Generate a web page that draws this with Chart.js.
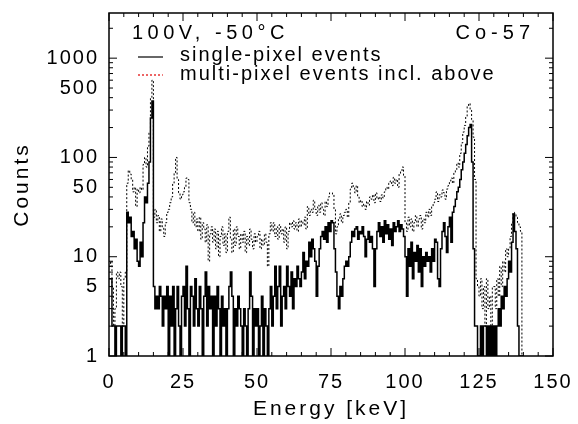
<!DOCTYPE html>
<html><head><meta charset="utf-8">
<script src="https://cdn.jsdelivr.net/npm/chart.js@4/dist/chart.umd.min.js"></script>
<style>html,body{margin:0;padding:0;background:#fff}#wrap{width:578px;height:424px}</style>
</head><body><div id="wrap"><canvas id="c" width="578" height="424"></canvas></div>
<script>
// ---- data (0.5 keV bins starting at 0 keV) ----
const binWidthKeV = 0.5;
const singlePixel = [
  6,6,2,2,1,2,2,2,1,2,        2,1,28,22,25,16,18,12,15,9,
  8,14,10,22,40,35,55,90,250,370, 5,3,4,3,5,4,2,4,3,5,
  1,4,2,5,1,3,5,2,1,4,        5,2,8,3,1,5,4,2,6,3,
  2,5,3,1,4,7,2,5,3,4,        1,4,2,5,3,1,4,2,3,1,
  3,5,7,4,1,3,2,4,3,2,        1,3,2,1,3,7,4,1,3,2,
  3,1,2,4,1,3,2,1,3,5,        2,4,8,3,5,8,2,4,5,3,
  8,5,4,7,3,6,5,8,6,5,        7,11,6,9,8,14,10,15,12,9,
  4,8,12,16,18,15,20,14,22,18, 23,22,12,7,4,3,5,4,6,8,
  9,8,10,14,18,16,19,20,15,18, 17,20,16,10,15,18,14,16,12,5,
  12,18,22,16,20,14,23,17,21,15, 19,13,22,18,20,23,18,21,19,16,
  10,4,12,8,14,6,11,9,13,7,   12,5,10,8,11,9,10,7,12,9,
  15,14,6,5,12,18,22,16,11,20, 25,14,28,32,38,45,50,60,75,90,
  110,135,165,200,215,90,12,2,2,1, 1,2,1,2,2,1,2,1,2,1,
  2,1,2,3,2,4,3,5,4,6,        9,7,14,27,18,12,2,1,1,1
];
const multiPixel = [
  8,9,5,2,3,7,6,7,5,2,        6,7,55,74,68,60,45,50,32,48,
  44,50,47,85,100,80,130,180,400,600, 25,30,22,26,18,24,20,16,22,28,
  30,35,40,55,70,100,60,44,38,42, 45,50,62,60,35,30,22,28,20,24,
  18,25,15,22,19,14,21,9,17,20, 14,19,12,18,10,16,20,13,17,11,
  18,25,15,11,19,13,20,16,12,17, 14,18,11,16,13,19,15,12,17,14,
  16,18,12,15,13,17,14,8,17,22, 18,22,16,20,15,21,17,19,14,20,
  12,18,22,20,23,19,22,18,24,20, 23,21,25,19,32,26,30,28,37,30,
  26,33,28,35,30,26,36,32,40,44, 44,42,30,17,20,24,27,22,26,28,
  30,25,35,48,55,50,44,52,40,35, 37,32,34,30,36,33,40,38,42,35,
  44,38,40,36,42,39,45,50,48,55, 58,52,63,55,60,50,68,72,80,65,
  22,18,25,20,24,18,22,26,20,24, 26,19,24,22,28,25,30,26,32,35,
  38,45,36,42,40,47,44,38,48,52, 58,62,55,70,75,88,80,110,140,180,
  210,260,330,350,300,240,160,60,6,5, 4,6,3,5,2,6,3,4,2,5,
  5,3,6,4,8,5,9,7,12,10,      12,16,22,28,27,25,22,20,18,1
];
const xTickLabels = [0,25,50,75,100,125,150];
const yTickLabels = [1,5,10,50,100,500,1000];
const yMinorTicks = [2,3,4,6,7,8,9,20,30,40,60,70,80,90,200,300,400,600,700,800,900,2000];
const xMinorTicks = [5,10,15,20,30,35,40,45,55,60,65,70,80,85,90,95,105,110,115,120,130,135,140,145];
const seriesNames = ['single-pixel events','multi-pixel events incl. above'];
const noteLeft = '100V, -50°C';
const noteRight = 'Co-57';
const xTitle = 'Energy [keV]';
const yTitle = 'Counts';

// ---- build step points ----
function toSteps(arr){
  const pts = arr.map((v,i)=>({x:i*binWidthKeV, y:v}));
  pts.push({x:arr.length*binWidthKeV, y:arr[arr.length-1]});
  return pts;
}

const FONT = '"Liberation Sans", Arial, sans-serif';
const SPACING = '2px';

const framePlugin = {
  id:'frame',
  beforeDraw(chart){ chart.ctx.letterSpacing = SPACING; },
  afterDraw(chart){
    const {ctx, chartArea:a, scales:{x,y}} = chart;
    ctx.save();
    ctx.strokeStyle = '#000';
    ctx.setLineDash([]);
    ctx.lineWidth = 1.5;
    ctx.strokeRect(a.left, a.top, a.right-a.left, a.bottom-a.top);
    ctx.lineWidth = 1;
    const seg = (x1,y1,x2,y2)=>{ctx.beginPath();ctx.moveTo(x1,y1);ctx.lineTo(x2,y2);ctx.stroke();};
    xTickLabels.forEach(v=>{const p=x.getPixelForValue(v); seg(p,a.bottom,p,a.bottom-8); seg(p,a.top,p,a.top+8);});
    xMinorTicks.forEach(v=>{const p=x.getPixelForValue(v); seg(p,a.bottom,p,a.bottom-4); seg(p,a.top,p,a.top+4);});
    [1,10,100,1000].forEach(v=>{const p=y.getPixelForValue(v); seg(a.left,p,a.left+8,p); seg(a.right,p,a.right-8,p);});
    [5,50,500].concat(yMinorTicks).forEach(v=>{const p=y.getPixelForValue(v); seg(a.left,p,a.left+4,p); seg(a.right,p,a.right-4,p);});

    // annotations & legend
    ctx.fillStyle = '#000';
    ctx.font = '20px ' + FONT;
    ctx.textBaseline = 'middle';
    ctx.letterSpacing = '4.5px';
    ctx.textAlign = 'left';
    ctx.fillText(noteLeft, 132, 33);
    ctx.letterSpacing = '5px';
    ctx.textAlign = 'right';
    ctx.fillText(noteRight, 535, 33);
    ctx.letterSpacing = SPACING;
    ctx.textAlign = 'left';
    ctx.fillText(seriesNames[0], 180, 55);
    ctx.fillText(seriesNames[1], 180, 74);
    ctx.lineWidth = 1.2;
    seg(138, 57, 163, 57);
    ctx.strokeStyle = '#e00000';
    ctx.setLineDash([2,2]);
    seg(138, 75, 163, 75);
    ctx.restore();
  }
};

const titleSpacing = {
  id:'titleSpacing',
  beforeDraw(chart){ chart.ctx.letterSpacing = SPACING; }
};

new Chart(document.getElementById('c'), {
  type:'line',
  data:{ datasets:[
    { label:seriesNames[1], data:toSteps(multiPixel), stepped:'before', borderColor:'#000', borderWidth:1, borderDash:[2,2], pointRadius:0, fill:false },
    { label:seriesNames[0], data:toSteps(singlePixel), stepped:'before', borderColor:'#000', borderWidth:1.5, pointRadius:0, fill:false }
  ]},
  options:{
    responsive:false, animation:false, devicePixelRatio:1,
    layout:{ padding:{left:0, top:13, right:25, bottom:0} },
    plugins:{ legend:{display:false}, tooltip:{enabled:false} },
    scales:{
      x:{ type:'linear', min:0, max:150,
          grid:{display:false, drawTicks:false}, border:{display:false},
          afterBuildTicks: s=>{ s.ticks = xTickLabels.map(v=>({value:v})); },
          afterFit: s=>{ s.height = 68; s.paddingLeft = 0; s.paddingRight = 0; },
          ticks:{ autoSkip:false, maxRotation:0, padding:14, color:'#000', font:{family:FONT, size:20}, callback:v=>String(v) },
          title:{ display:true, text:xTitle, color:'#000', font:{family:FONT, size:21}, padding:{top:0, bottom:2} } },
      y:{ type:'logarithmic', min:1, max:2850,
          grid:{display:false, drawTicks:false}, border:{display:false},
          afterBuildTicks: s=>{ s.ticks = yTickLabels.map(v=>({value:v})); },
          afterFit: s=>{ s.width = 109; s.paddingTop = 0; s.paddingBottom = 0; },
          ticks:{ autoSkip:false, padding:10, color:'#000', font:{family:FONT, size:20}, callback:v=>String(v) },
          title:{ display:true, text:yTitle, color:'#000', font:{family:FONT, size:21}, padding:{top:10, bottom:0} } }
    }
  },
  plugins:[framePlugin, {
    id:'axisTitleSpacing',
    beforeDraw(chart){
      // wider spacing for axis titles: patch title drawing of each scale
      ['x','y'].forEach(k=>{
        const s = chart.scales[k];
        if (!s._spacedTitle){
          const orig = s.drawTitle.bind(s);
          s.drawTitle = function(){ const c=this.ctx; const prev=c.letterSpacing; c.letterSpacing='3px'; orig(); c.letterSpacing=prev; };
          s._spacedTitle = true;
        }
      });
    }
  }]
});
</script>
</body></html>
